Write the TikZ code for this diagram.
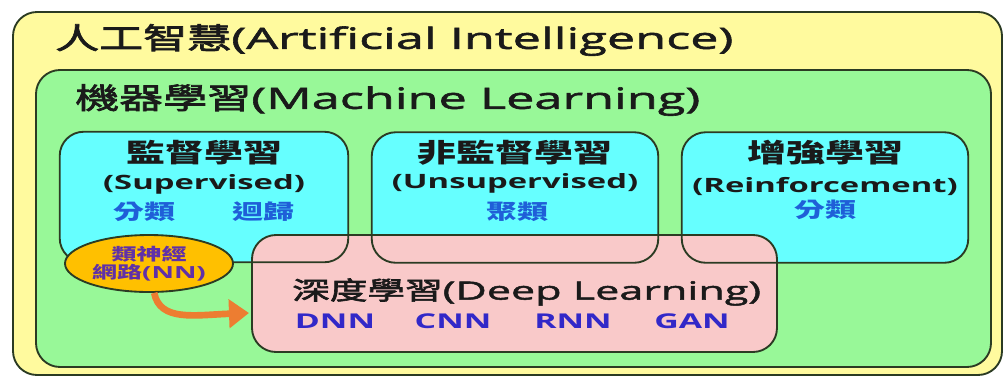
\documentclass[tikz,border=0pt]{standalone}
\usepackage{fontspec}
\usetikzlibrary{shapes.geometric,arrows.meta}
\newfontfamily\zh[FakeStretch=1.5,FakeBold=2.5]{Noto Sans CJK TC}
\newfontfamily\zhb[FakeStretch=1.5]{Noto Sans CJK TC}
\newfontfamily\en[FakeStretch=1.72,FakeBold=2]{Open Sans}
\newfontfamily\enb[FakeStretch=1.66]{Open Sans}
\definecolor{cYellow}{HTML}{FFFA9E}
\definecolor{cGreen}{HTML}{98F898}
\definecolor{cCyan}{HTML}{66FFFF}
\definecolor{cPink}{HTML}{F9C9C9}
\definecolor{cOrange}{HTML}{FFC000}
\definecolor{cArrow}{HTML}{ED7D31}
\definecolor{cLine}{HTML}{2B3B23}
\definecolor{cBlue}{HTML}{1F5FD8}
\definecolor{cViolet}{HTML}{3228C8}
\definecolor{cPurple}{HTML}{6030A8}
\definecolor{cText}{HTML}{1A1A1A}
\begin{document}
\begin{tikzpicture}[x=0.75pt,y=-0.75pt,
  panel/.style={rectangle, rounded corners=18pt, draw=cLine, line width=1.4pt, inner sep=0pt},
  panelfill/.style={rectangle, rounded corners=18pt, draw=none, inner sep=0pt},
  outline/.style={draw=cLine, line width=1.4pt, rounded corners=18pt},
  lbl/.style={inner sep=0pt, text=cText},
  bigt/.style={lbl, font=\fontsize{22pt}{26pt}\selectfont},
  head/.style={lbl, font=\zhb\bfseries\fontsize{19.5pt}{23pt}\selectfont},
  sub/.style={lbl, font=\enb\bfseries\fontsize{14.8pt}{18pt}\selectfont},
  task/.style={inner sep=0pt, text=cBlue, font=\zhb\bfseries\fontsize{15.5pt}{18pt}\selectfont},
  net/.style={inner sep=0pt, text=cViolet, font=\enb\bfseries\fontsize{15.3pt}{18pt}\selectfont},
  flow/.style={draw=cArrow, line width=5pt, -{Triangle[length=15pt,width=21pt]}}
]
\useasboundingbox (0,0) rectangle (1006,376);
\fill[white] (0,0) rectangle (1006,376);
% containers
\node[panel, fill=cYellow, minimum width=741.75pt, minimum height=272.25pt] (ai) at (507.5,193.5) {};
\node[panel, fill=cGreen, minimum width=716.25pt, minimum height=222.75pt] (ml) at (513.5,218.5) {};
\node[panelfill, fill=cCyan, minimum width=216pt, minimum height=97.5pt] (sup) at (204,197) {};
\node[panelfill, fill=cCyan, minimum width=214.5pt, minimum height=97.5pt] (uns) at (515,197.5) {};
\node[panelfill, fill=cCyan, minimum width=214.5pt, minimum height=97.5pt] (rei) at (825,197.5) {};
\node[panel, fill=cPink, minimum width=393.75pt, minimum height=87.75pt] (deep) at (514.5,293.5) {};
\draw[outline] (sup.south west) rectangle (sup.north east);
\draw[outline] (uns.south west) rectangle (uns.north east);
\draw[outline] (rei.south west) rectangle (rei.north east);
% titles
\node[bigt, anchor=west] (tai) at (55,40) {\zh 人工智慧\en(Artificial Intelligence)};
\node[bigt, anchor=west] (tml) at (75,100) {\zh 機器學習\en(Machine Learning)};
% supervised
\node[head] (sup1) at (204,153) {監督學習};
\node[sub] (sup2) at (204,184) {(Supervised)};
\node[task] (sup3) at (144,212) {分類};
\node[task] (sup4) at (263,212) {迴歸};
% unsupervised
\node[head] (uns1) at (515,153) {非監督學習};
\node[sub] (uns2) at (515,183) {(Unsupervised)};
\node[task] (uns3) at (517,212) {聚類};
% reinforcement
\node[head] (rei1) at (825,153) {增強學習};
\node[sub] (rei2) at (825,187) {(Reinforcement)};
\node[task] (rei3) at (825,210) {分類};
% deep learning
\node[lbl, anchor=west, font=\fontsize{18.8pt}{23pt}\selectfont] (tdeep) at (292,292) {\zh 深度學習\en(Deep Learning)};
\node[net] (dnn) at (335,321) {DNN};
\node[net] (cnn) at (453,321) {CNN};
\node[net] (rnn) at (573,321) {RNN};
\node[net] (gan) at (692,321) {GAN};
% neural network ellipse
\node[ellipse, fill=cOrange, draw=cLine, line width=1.4pt, minimum width=126pt, minimum height=42.75pt, inner sep=0pt,
      text=cPurple, align=center, font=\zhb\bfseries\fontsize{12.5pt}{13.5pt}\selectfont] (nn) at (149,263.5)
      {類神經\\網路\enb\bfseries(NN)};
\coordinate (tip) at (249,313);
\draw[flow] (nn.-80) .. controls (160,322) and (195,315) .. (tip);
\end{tikzpicture}
\end{document}
